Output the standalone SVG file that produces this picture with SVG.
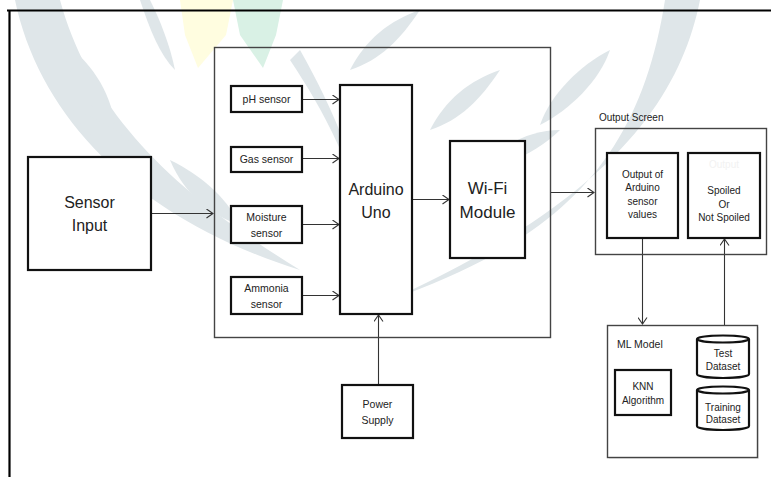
<svg xmlns="http://www.w3.org/2000/svg" width="771" height="477" viewBox="0 0 771 477">
<defs>
<marker id="arr" markerWidth="8" markerHeight="10" refX="7" refY="5" orient="auto" markerUnits="userSpaceOnUse">
<path d="M0.5,0.5 L7,5 L0.5,9.5" fill="none" stroke="#333" stroke-width="1.1"/>
</marker>
<style>
.box{fill:#fff;stroke:#111;stroke-width:2.2}
.cont{fill:none;stroke:#444;stroke-width:1.4}
.conn{fill:none;stroke:#333;stroke-width:1.1}
.t{font-family:"Liberation Sans",Arial,sans-serif;fill:#222;text-anchor:middle}
.s{font-size:10.5px}
.m{font-size:10px}
.l{font-size:16px}
.wm{fill:#dfe6e9}
</style>
</defs>
<rect width="771" height="477" fill="#fff"/>
<g id="watermark">
<path d="M180,0 L233,0 L226,35 L198,68 L185,35 Z" fill="#fffde0"/>
<path d="M233,0 L283,0 L276,35 L263,68 L240,35 Z" fill="#d9f1e5"/>
<path class="wm" d="M15,0 C40,120 140,220 300,270 C170,190 90,110 60,0 Z"/>
<path class="wm" d="M60,40 C90,60 110,90 115,125 C90,110 70,80 60,40 Z"/>
<path class="wm" d="M70,110 C110,120 140,145 160,180 C125,170 95,145 70,110 Z"/>
<path class="wm" d="M140,0 C150,30 160,55 175,70 C170,45 160,20 150,0 Z"/>
<path class="wm" d="M290,60 C330,120 360,180 390,300 C370,200 340,120 300,50 Z"/>
<path class="wm" d="M700,0 C680,100 610,200 390,300 C560,240 640,160 665,0 Z"/>
<path class="wm" d="M610,50 C600,80 570,110 540,125 C550,95 580,65 610,50 Z"/>
<path class="wm" d="M560,130 C540,150 510,165 480,170 C500,145 530,130 560,130 Z"/>
<path class="wm" d="M500,70 C480,100 460,120 430,130 C445,100 470,80 500,70 Z"/>
<path class="wm" d="M420,10 C400,40 380,60 350,70 C365,40 390,20 420,10 Z"/>
<path class="wm" d="M170,160 C200,175 225,195 240,225 C210,215 185,195 170,160 Z"/>
</g>
<g id="frame">
<line x1="7" y1="10.5" x2="771" y2="10.5" stroke="#000" stroke-width="2.2"/>
<line x1="9.5" y1="10" x2="9.5" y2="477" stroke="#000" stroke-width="2.2"/>
</g>
<g id="connectors">
<line class="conn" x1="151" y1="213.5" x2="213" y2="213.5" marker-end="url(#arr)"/>
<line class="conn" x1="302" y1="99.5" x2="339" y2="99.5" marker-end="url(#arr)"/>
<line class="conn" x1="302" y1="158.5" x2="339" y2="158.5" marker-end="url(#arr)"/>
<line class="conn" x1="302" y1="224.5" x2="339" y2="224.5" marker-end="url(#arr)"/>
<line class="conn" x1="302" y1="295.5" x2="339" y2="295.5" marker-end="url(#arr)"/>
<line class="conn" x1="412" y1="199.5" x2="449" y2="199.5" marker-end="url(#arr)"/>
<line class="conn" x1="550" y1="192.5" x2="594" y2="192.5" marker-end="url(#arr)"/>
<line class="conn" x1="378.5" y1="385" x2="378.5" y2="315" marker-end="url(#arr)"/>
<line class="conn" x1="642.5" y1="238" x2="642.5" y2="324" marker-end="url(#arr)"/>
<line class="conn" x1="724.5" y1="325" x2="724.5" y2="239" marker-end="url(#arr)"/>
</g>
<g id="sensor-input">
<rect class="box" x="28" y="157" width="123" height="113"/>
<text class="t l" x="89.5" y="208">Sensor</text>
<text class="t l" x="89.5" y="231">Input</text>
</g>
<g id="controller">
<rect class="cont" x="214.5" y="47.5" width="336" height="290"/>
</g>
<g id="ph-sensor">
<rect class="box" x="231" y="86" width="71" height="26"/>
<text class="t s" x="266.5" y="103">pH sensor</text>
</g>
<g id="gas-sensor">
<rect class="box" x="231" y="147" width="71" height="25"/>
<text class="t s" x="266.5" y="163">Gas sensor</text>
</g>
<g id="moisture-sensor">
<rect class="box" x="231" y="206" width="71" height="37"/>
<text class="t s" x="266.5" y="221">Moisture</text>
<text class="t s" x="266.5" y="237">sensor</text>
</g>
<g id="ammonia-sensor">
<rect class="box" x="231" y="277" width="71" height="37"/>
<text class="t s" x="266.5" y="292">Ammonia</text>
<text class="t s" x="266.5" y="308">sensor</text>
</g>
<g id="arduino">
<rect class="box" x="340" y="85" width="72" height="229"/>
<text class="t l" x="376" y="195">Arduino</text>
<text class="t l" x="376" y="218">Uno</text>
</g>
<g id="wifi">
<rect class="box" x="450" y="141" width="75" height="117"/>
<text class="t" style="font-size:17px" x="487.5" y="194">Wi-Fi</text>
<text class="t" style="font-size:17px" x="487.5" y="218">Module</text>
</g>
<g id="power-supply">
<rect class="box" x="342" y="385" width="71" height="53"/>
<text class="t s" x="377.5" y="408">Power</text>
<text class="t s" x="377.5" y="424">Supply</text>
</g>
<g id="output-screen">
<text class="t m" style="text-anchor:start" x="599" y="121">Output Screen</text>
<rect class="cont" x="595.5" y="128.5" width="171" height="126"/>
</g>
<g id="output-values">
<rect class="box" x="607" y="153" width="71" height="85"/>
<text class="t m" x="642.5" y="178">Output of</text>
<text class="t m" x="642.5" y="191">Arduino</text>
<text class="t m" x="642.5" y="205">sensor</text>
<text class="t m" x="642.5" y="218">values</text>
</g>
<g id="output-result">
<rect class="box" x="688" y="153" width="72" height="85"/>
<text class="t m" style="fill:#f2f2f2" x="724" y="168">Output</text>
<text class="t m" x="724" y="194">Spoiled</text>
<text class="t m" x="724" y="208">Or</text>
<text class="t m" x="724" y="221">Not Spoiled</text>
</g>
<g id="ml-model">
<rect x="609" y="327" width="150" height="132" fill="#ececec"/>
<rect class="cont" x="607.5" y="325.5" width="150" height="132" style="fill:#fff"/>
<text class="t s" style="text-anchor:start" x="617" y="348">ML Model</text>
</g>
<g id="knn">
<rect class="box" x="615" y="370" width="56" height="45"/>
<text class="t m" x="643" y="390">KNN</text>
<text class="t m" x="643" y="404">Algorithm</text>
</g>
<g id="test-dataset">
<path class="box" d="M697,339 L697,374 A26,4 0 0 0 749,374 L749,339"/>
<ellipse class="box" cx="723" cy="339" rx="26" ry="3.5"/>
<text class="t m" x="723" y="357">Test</text>
<text class="t m" x="723" y="370">Dataset</text>
</g>
<g id="training-dataset">
<path class="box" d="M697,390 L697,426 A26,4 0 0 0 749,426 L749,390"/>
<ellipse class="box" cx="723" cy="390" rx="26" ry="3.5"/>
<text class="t m" x="723" y="411">Training</text>
<text class="t m" x="723" y="423">Dataset</text>
</g>
</svg>
